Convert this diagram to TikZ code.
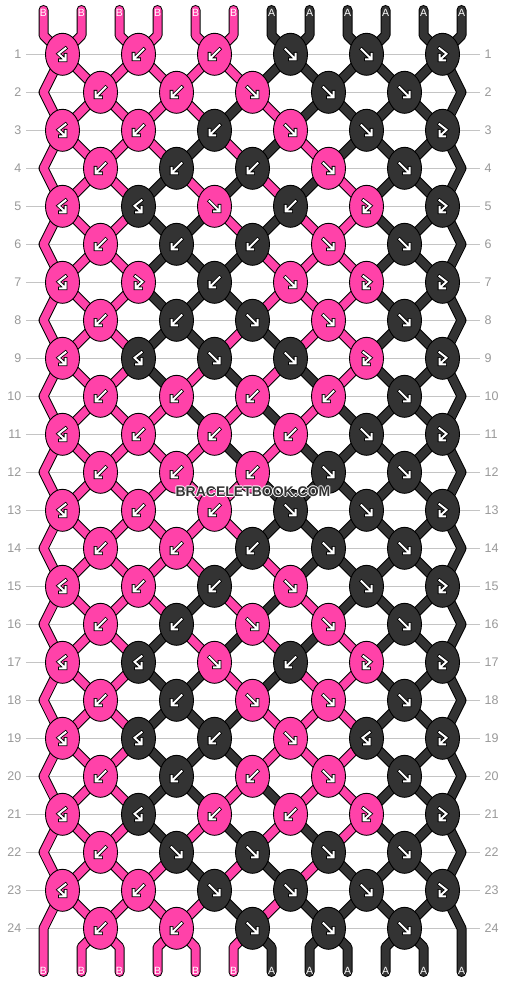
\documentclass[tikz,border=0pt]{standalone}
\usepackage{fontspec}
\setmainfont{Liberation Sans}
\usetikzlibrary{shapes.geometric}
\definecolor{pk}{HTML}{FF42A9}
\definecolor{dk}{HTML}{333333}
\definecolor{knP}{HTML}{FF42A9}
\definecolor{knD}{HTML}{333333}
\definecolor{gridc}{HTML}{C4C4C4}
\definecolor{numc}{HTML}{999999}
\pgfdeclarelayer{paperlayer}
\pgfdeclarelayer{gridlayer}
\pgfdeclarelayer{threadlayer}
\pgfsetlayers{paperlayer,gridlayer,threadlayer,main}
\tikzset{
  knot/.style={ellipse, draw=black, line width=0.9, minimum width=34, minimum height=42, inner sep=0},
  thr/.style={draw=black, line width=1, double=#1, double distance=8, line cap=round, line join=round},
  gout/.style={draw=black, line width=3.6, line cap=rect},
  gin/.style={draw=white, line width=2, line cap=rect},
  numl/.style={text=numc, inner sep=0, font=\fontsize{12.5}{13}\selectfont},
  slab/.style={text=white, inner sep=0, font=\fontsize{10.5}{10.5}\selectfont},
  wm/.style={anchor=base, inner sep=0, font=\fontsize{14}{14}\selectfont\bfseries}
}
\expandafter\def\csname st0\endcsname{{0,0,0,0,0,0,1,1,1,1,1,1}}
\expandafter\def\csname st1\endcsname{{0,0,0,0,0,0,1,1,1,1,1,1}}
\expandafter\def\csname st2\endcsname{{0,0,0,0,0,1,0,1,1,1,1,1}}
\expandafter\def\csname st3\endcsname{{0,0,0,0,1,0,1,0,1,1,1,1}}
\expandafter\def\csname st4\endcsname{{0,0,0,1,0,1,0,1,0,1,1,1}}
\expandafter\def\csname st5\endcsname{{0,0,0,1,1,0,1,0,0,1,1,1}}
\expandafter\def\csname st6\endcsname{{0,0,0,1,1,1,0,0,0,1,1,1}}
\expandafter\def\csname st7\endcsname{{0,0,0,1,1,1,0,0,0,1,1,1}}
\expandafter\def\csname st8\endcsname{{0,0,0,1,1,0,1,0,0,1,1,1}}
\expandafter\def\csname st9\endcsname{{0,0,0,1,0,1,0,1,0,1,1,1}}
\expandafter\def\csname st10\endcsname{{0,0,0,0,1,0,1,0,1,1,1,1}}
\expandafter\def\csname st11\endcsname{{0,0,0,0,0,1,0,1,1,1,1,1}}
\expandafter\def\csname st12\endcsname{{0,0,0,0,0,0,1,1,1,1,1,1}}
\expandafter\def\csname st13\endcsname{{0,0,0,0,0,0,1,1,1,1,1,1}}
\expandafter\def\csname st14\endcsname{{0,0,0,0,0,1,0,1,1,1,1,1}}
\expandafter\def\csname st15\endcsname{{0,0,0,0,1,0,1,0,1,1,1,1}}
\expandafter\def\csname st16\endcsname{{0,0,0,1,0,1,0,1,0,1,1,1}}
\expandafter\def\csname st17\endcsname{{0,0,0,1,1,0,1,0,0,1,1,1}}
\expandafter\def\csname st18\endcsname{{0,0,0,1,1,1,0,0,0,1,1,1}}
\expandafter\def\csname st19\endcsname{{0,0,0,1,1,1,0,0,0,1,1,1}}
\expandafter\def\csname st20\endcsname{{0,0,0,1,1,0,1,0,0,1,1,1}}
\expandafter\def\csname st21\endcsname{{0,0,0,1,0,1,0,1,0,1,1,1}}
\expandafter\def\csname st22\endcsname{{0,0,0,0,1,0,1,0,1,1,1,1}}
\expandafter\def\csname st23\endcsname{{0,0,0,0,0,1,0,1,1,1,1,1}}
\expandafter\def\csname st24\endcsname{{0,0,0,0,0,0,1,1,1,1,1,1}}
\newcommand\getcol[2]{%
  \expandafter\let\expandafter\mycurst\csname st#1\endcsname
  \pgfmathtruncatemacro\mycv{\mycurst[#2]}%
  \ifnum\mycv=0 \def\mytcol{pk}\else\def\mytcol{dk}\fi}
\newcommand\glyphF[1]{\foreach \gs in {gout,gin}{\draw[\gs,shift={(#1.center)}] (-5,-5) -- (4,4) (5,-0.5) -- (5,5) -- (-0.5,5);}}
\newcommand\glyphB[1]{\foreach \gs in {gout,gin}{\draw[\gs,shift={(#1.center)}] (5,-5) -- (-4,4) (-5,-0.5) -- (-5,5) -- (0.5,5);}}
\newcommand\glyphFB[1]{\foreach \gs in {gout,gin}{\draw[\gs,shift={(#1.center)}] (-3,-6) -- (4,-0.5) -- (-2,5) (-3,0.5) -- (-3,6) -- (2.5,6);}}
\newcommand\glyphBF[1]{\foreach \gs in {gout,gin}{\draw[\gs,shift={(#1.center)}] (3,-6) -- (-4,-0.5) -- (2,5) (3,0.5) -- (3,6) -- (-2.5,6);}}
\begin{document}
\begin{tikzpicture}[x=1pt,y=-1pt]
\begin{pgfonlayer}{paperlayer}
\path[use as bounding box, fill=white] (0,0) rectangle (506,984);
\end{pgfonlayer}
% helper coordinates, row numbers, grid lines
\foreach \r in {1,...,24}{
  \coordinate (eL-\r) at (43.5,{16.3+38*\r});
  \coordinate (eR-\r) at (461.5,{16.3+38*\r});
  \coordinate (gl-\r) at (26,{16.3+38*\r});
  \coordinate (gr-\r) at (480,{16.3+38*\r});
  \node[numl, anchor=east] (nl-\r) at (21.5,{16.3+38*\r}) {\r};
  \node[numl, anchor=west] (nr-\r) at (484.5,{16.3+38*\r}) {\r};
  \begin{pgfonlayer}{gridlayer}
    \draw[gridc, line width=1] (gl-\r) -- (gr-\r);
  \end{pgfonlayer}
}
% knots
\foreach \r/\lst in {
 1/{BF/P,B/P,B/P,F/D,F/D,FB/D},
 2/{B/P,B/P,F/P,F/D,F/D},
 3/{BF/P,B/P,B/D,F/P,F/D,FB/D},
 4/{B/P,B/D,B/D,F/P,F/D},
 5/{BF/P,BF/D,F/P,B/D,FB/P,FB/D},
 6/{B/P,B/D,B/D,F/P,F/D},
 7/{BF/P,FB/P,B/D,F/P,FB/P,FB/D},
 8/{B/P,B/D,F/D,F/P,F/D},
 9/{BF/P,BF/D,F/D,F/D,FB/P,FB/D},
 10/{B/P,B/P,B/P,B/P,F/D},
 11/{BF/P,B/P,B/P,B/P,F/D,FB/D},
 12/{B/P,B/P,B/P,F/D,F/D},
 13/{BF/P,B/P,B/P,F/D,F/D,FB/D},
 14/{B/P,B/P,B/D,F/D,F/D},
 15/{BF/P,B/P,B/D,F/P,F/D,FB/D},
 16/{B/P,B/D,F/P,F/P,F/D},
 17/{BF/P,BF/D,F/P,B/D,FB/P,FB/D},
 18/{B/P,B/D,F/P,F/P,F/D},
 19/{BF/P,BF/D,B/D,F/P,BF/D,FB/D},
 20/{B/P,B/D,B/P,F/P,F/D},
 21/{BF/P,BF/D,B/P,B/P,FB/P,FB/D},
 22/{B/P,F/D,F/D,F/D,F/D},
 23/{BF/P,B/P,F/D,F/D,F/D,FB/D},
 24/{B/P,B/P,F/D,F/D,F/D}}{
  \foreach \ty/\k [count=\j from 0] in \lst {
    \pgfmathtruncatemacro\kc{mod(\r,2)==1 ? 2*\j : 2*\j+1}
    \node[knot, fill=kn\k] (k-\r-\kc) at ({62.5+38*\kc},{16.3+38*\r}) {};
    \csname glyph\ty\endcsname{k-\r-\kc}
  }
}
% strings: top/bottom coordinates and labels
\foreach \i in {0,...,11}{
  \pgfmathsetmacro\xi{43.5+38*\i}
  \ifnum\i<6 \def\slabt{B}\else\def\slabt{A}\fi
  \coordinate (top-\i) at (\xi,10);
  \coordinate (tA-\i) at (\xi,35.3);
  \coordinate (bA-\i) at (\xi,947.3);
  \coordinate (bot-\i) at (\xi,972);
  \node[slab] (lt-\i) at (\xi,12.7) {\slabt};
  \node[slab] (lb-\i) at (\xi,971.3) {\slabt};
}
\begin{pgfonlayer}{threadlayer}
% top strings
\foreach \i in {0,...,11}{
  \pgfmathtruncatemacro\kc{\i-mod(\i,2)}
  \getcol{0}{\i}
  \draw[thr=\mytcol] (top-\i) -- (tA-\i) -- (k-1-\kc.center);
}
% threads between knots
\foreach \r in {1,...,23}{
  \pgfmathtruncatemacro\rn{\r+1}
  \pgfmathtruncatemacro\rnn{\r+2}
  \pgfmathtruncatemacro\myodd{mod(\r,2)}
  \ifnum\myodd=1
    \foreach \kc in {0,2,...,10}{
      \pgfmathtruncatemacro\kl{\kc-1}
      \pgfmathtruncatemacro\kr{\kc+1}
      \getcol{\r}{\kc}
      \ifnum\kc=0
        \ifnum\r<23
          \draw[thr=\mytcol] (k-\r-0.center) -- (eL-\rn) -- (k-\rnn-0.center);
        \else
          \draw[thr=\mytcol] (k-\r-0.center) -- (eL-\rn) -- (bot-0);
        \fi
      \else
        \draw[thr=\mytcol] (k-\r-\kc.center) -- (k-\rn-\kl.center);
      \fi
      \getcol{\r}{\kr}
      \ifnum\kc=10
        \ifnum\r<23
          \draw[thr=\mytcol] (k-\r-10.center) -- (eR-\rn) -- (k-\rnn-10.center);
        \else
          \draw[thr=\mytcol] (k-\r-10.center) -- (eR-\rn) -- (bot-11);
        \fi
      \else
        \draw[thr=\mytcol] (k-\r-\kc.center) -- (k-\rn-\kr.center);
      \fi
    }
  \else
    \foreach \kc in {1,3,...,9}{
      \pgfmathtruncatemacro\kl{\kc-1}
      \pgfmathtruncatemacro\kr{\kc+1}
      \getcol{\r}{\kc}
      \draw[thr=\mytcol] (k-\r-\kc.center) -- (k-\rn-\kl.center);
      \getcol{\r}{\kr}
      \draw[thr=\mytcol] (k-\r-\kc.center) -- (k-\rn-\kr.center);
    }
  \fi
}
% bottom strings from row 24
\foreach \kc in {1,3,...,9}{
  \pgfmathtruncatemacro\kr{\kc+1}
  \getcol{24}{\kc}
  \draw[thr=\mytcol] (k-24-\kc.center) -- (bA-\kc) -- (bot-\kc);
  \getcol{24}{\kr}
  \draw[thr=\mytcol] (k-24-\kc.center) -- (bA-\kr) -- (bot-\kr);
}
\end{pgfonlayer}
% watermark
\foreach \dx/\dy [count=\n] in {-1/0,1/0,0/-1,0/1}{
  \node[wm, text=white] (wmo-\n) at ({253+\dx},{496.5+\dy}) {BRACELETBOOK.COM};
}
\node[wm, text=dk] (wm) at (253,496.5) {BRACELETBOOK.COM};
\end{tikzpicture}
\end{document}
